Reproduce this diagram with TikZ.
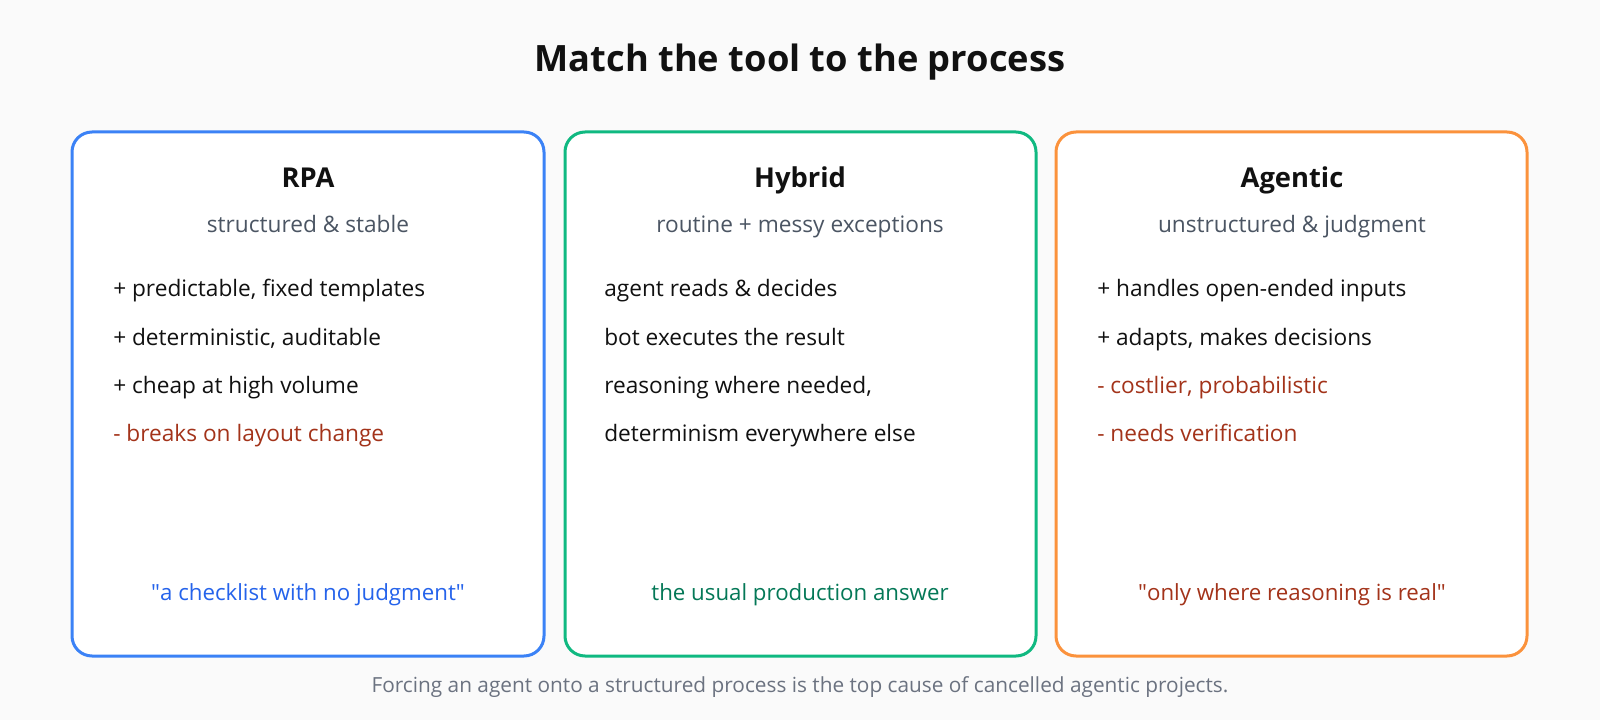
\documentclass[tikz,border=0pt]{standalone}
\usepackage{fontspec}
\setmainfont{Open Sans}
\definecolor{bg}{HTML}{FAFAFA}
\definecolor{cblue}{HTML}{3B82F6}
\definecolor{cgreen}{HTML}{10B981}
\definecolor{corange}{HTML}{FB923C}
\definecolor{tblue}{HTML}{2563EB}
\definecolor{tgreen}{HTML}{047857}
\definecolor{tred}{HTML}{A3331A}
\definecolor{sub}{HTML}{4B5563}
\definecolor{note}{HTML}{6B7280}
\definecolor{ink}{HTML}{111111}
\tikzset{
  card/.style={draw=#1, line width=2.25pt, rounded corners=15pt, fill=white},
  title/.style={anchor=base, font=\fontsize{27.2}{32}\selectfont\bfseries, text=ink, inner sep=0pt},
  head/.style={anchor=base, font=\fontsize{20.5}{25}\selectfont\bfseries, text=ink, inner sep=0pt},
  subt/.style={anchor=base, font=\fontsize{17}{20}\selectfont, text=sub, inner sep=0pt},
  item/.style={anchor=base west, font=\fontsize{17}{20}\selectfont, text=ink, inner sep=0pt},
  con/.style={item, text=tred},
  quote/.style={anchor=base, font=\fontsize{16.7}{20}\selectfont, text=#1, inner sep=0pt},
  foot/.style={anchor=base, font=\fontsize{15.6}{19}\selectfont, text=note, inner sep=0pt}
}
\begin{document}
\begin{tikzpicture}[x=0.75pt, y=-0.75pt]
\fill[bg] (0,0) rectangle (1600,720);
\useasboundingbox (0,0) rectangle (1600,720);
\node[title] (t) at (800,72) {Match the tool to the process};
% cards
\draw[card=cblue] (72,132) rectangle (544,656);
\draw[card=cgreen] (565,132) rectangle (1036,656);
\draw[card=corange] (1056,132) rectangle (1527,656);
% RPA
\node[head] (h1) at (308,188) {RPA};
\node[subt] (s1) at (308,233) {structured \& stable};
\node[item] (a1) at (113,297) {+ predictable, fixed templates};
\node[item] (a2) at (113,345) {+ deterministic, auditable};
\node[item] (a3) at (113,393) {+ cheap at high volume};
\node[con] (a4) at (113,441) {- breaks on layout change};
\node[quote=tblue] (q1) at (308,600) {\textquotedbl a checklist with no judgment\textquotedbl};
% Hybrid
\node[head] (h2) at (800,188) {Hybrid};
\node[subt] (s2) at (800,233) {routine + messy exceptions};
\node[item] (b1) at (604,297) {agent reads \& decides};
\node[item] (b2) at (604,345) {bot executes the result};
\node[item] (b3) at (604,393) {reasoning where needed,};
\node[item] (b4) at (604,441) {determinism everywhere else};
\node[quote=tgreen] (q2) at (800,600) {the usual production answer};
% Agentic
\node[head] (h3) at (1292,188) {Agentic};
\node[subt] (s3) at (1292,233) {unstructured \& judgment};
\node[item] (c1) at (1097,297) {+ handles open-ended inputs};
\node[item] (c2) at (1097,345) {+ adapts, makes decisions};
\node[con] (c3) at (1097,393) {- costlier, probabilistic};
\node[con] (c4) at (1097,441) {- needs verification};
\node[quote=tred] (q3) at (1292,600) {\textquotedbl only where reasoning is real\textquotedbl};
\node[foot] (f) at (800,692) {Forcing an agent onto a structured process is the top cause of cancelled agentic projects.};
\end{tikzpicture}
\end{document}
